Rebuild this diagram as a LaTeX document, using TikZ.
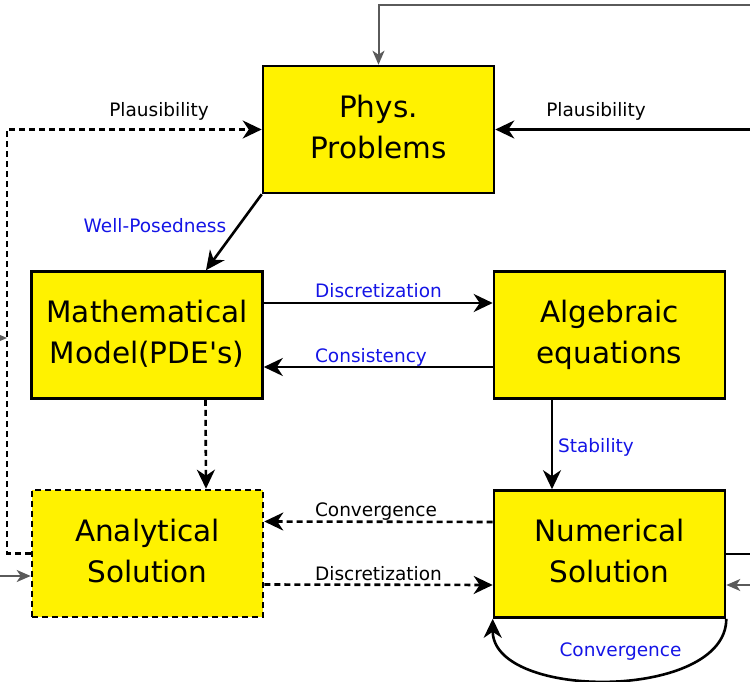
\documentclass[tikz,border=0pt]{standalone}
\usepackage{fontspec}
\setmainfont{DejaVu Sans}
\usetikzlibrary{arrows.meta,calc}
\newcommand{\sqapos}{\XeTeXglyph\XeTeXcharglyph"0027\relax}
\begin{document}
\begin{tikzpicture}[x=1pt,y=-1pt,
  box/.style={draw=black, line width=2.6pt, fill=yellow, minimum width=231pt, minimum height=127pt,
    inner sep=0pt, text depth=6pt, align=center, font=\fontsize{29.5}{41}\selectfont},
  dsh/.style={dash pattern=on 6pt off 4pt},
  arr/.style={line width=2.6pt, -{Stealth[length=19pt,width=18pt,inset=6pt]}},
  plainline/.style={line width=2.6pt},
  garr/.style={line width=2pt, draw=gcol, -{Stealth[length=14pt,width=12pt,inset=4pt]}},
  lbl/.style={font=\fontsize{18.5}{22}\selectfont, inner sep=0pt},
  blbl/.style={lbl, text=lblue}]
\definecolor{gcol}{RGB}{90,90,90}
\definecolor{lblue}{RGB}{20,20,230}
\useasboundingbox (0,0) rectangle (750,682);
\clip (0,0) rectangle (750,682);

\node[box] (P) at (378.5,129.5) {Phys.\\Problems};
\node[box] (M) at (147,335) {Mathematical\\Model(PDE\sqapos s)};
\node[box] (A) at (609.5,335) {Algebraic\\equations};
\node[box, dsh] (S) at (147.5,553.5) {Analytical\\Solution};
\node[box] (N) at (609.5,554) {Numerical\\Solution};

% main arrows
\draw[arr] (P.south west) -- ([xshift=59pt]M.north);
\draw[arr] ([yshift=32pt]M.east) -- ([yshift=32pt]A.west);
\draw[arr] ([yshift=-32pt]A.west) -- ([yshift=-32pt]M.east);
\draw[arr] ([xshift=-57.5pt]A.south) -- ([xshift=-57.5pt]N.north);
\draw[arr, dsh] ([yshift=32pt]N.west) -- ([yshift=32pt]S.east);
\draw[arr, dsh] ([yshift=-31pt]S.east) -- ([yshift=-31pt]N.west);
\draw[arr, dsh] ([xshift=58.5pt]M.south) -- ([xshift=58.5pt]S.north);

% plausibility loops
\coordinate (L) at (7,129.5);
\draw[arr, dsh] (S.west) -| (L) -- (P.west);
\coordinate (R) at (760,129.5);
\draw[arr] (R) -- (P.east);

% convergence loop
\draw[arr] (N.south east) .. controls +(0,82) and +(0,82) .. (N.south west);

% outgoing / incoming gray connectors
\coordinate (T) at (760,5);
\draw[garr] (T) -| (P.north);
\coordinate (G1) at (-20,338);
\coordinate (G1e) at (7,338);
\draw[garr] (G1) -- (G1e);
\coordinate (G2) at (-10,576);
\draw[garr] (G2) -- (S.west |- G2);
\coordinate (G3) at (760,585);
\draw[garr] (G3) -- (N.east |- G3);
\coordinate (E) at (760,554);
\draw[plainline] (N.east) -- (E);

% labels
\node[lbl, anchor=base] (l1) at (159,117) {Plausibility};
\node[lbl, anchor=base] (l2) at (596,117) {Plausibility};
\node[blbl, anchor=base] (l3) at (155,233) {Well-Posedness};
\node[blbl, anchor=base] (l4) at (378.5,297) {Discretization};
\node[blbl, anchor=base] (l5) at (371,362) {Consistency};
\node[blbl, anchor=base] (l6) at (596,452) {Stability};
\node[lbl, anchor=base] (l7) at (376,516) {Convergence};
\node[lbl, anchor=base] (l8) at (378.5,580) {Discretization};
\node[blbl, anchor=base] (l9) at (620.5,656) {Convergence};
\end{tikzpicture}
\end{document}
